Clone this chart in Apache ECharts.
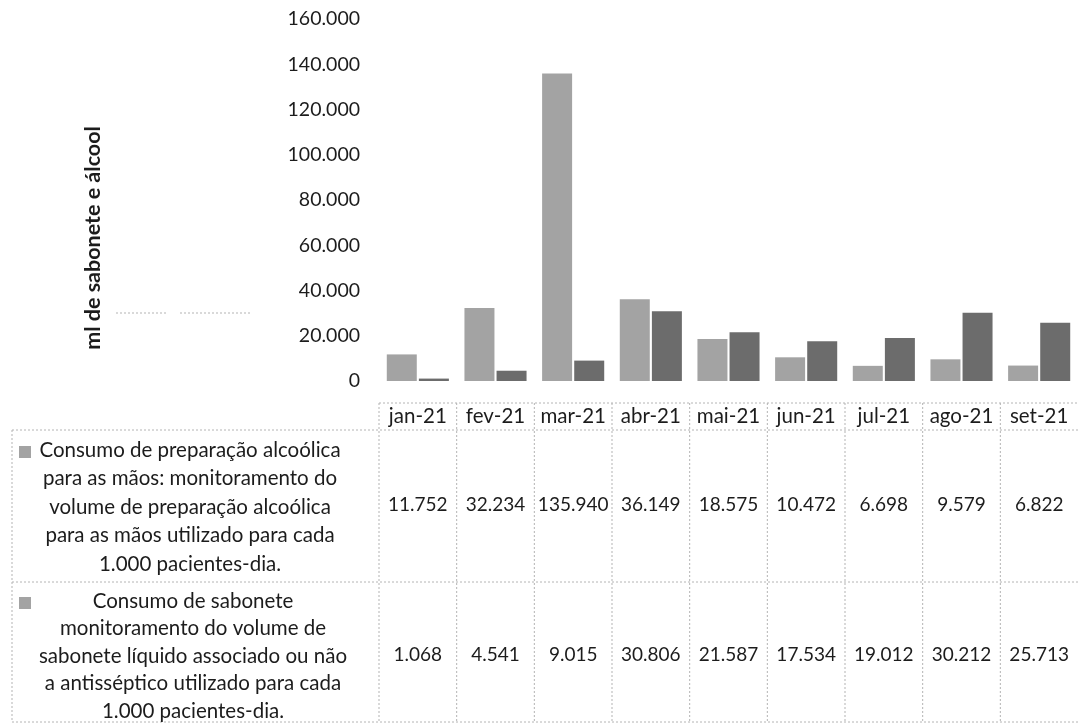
<!DOCTYPE html>
<html>
<head>
<meta charset="utf-8">
<script src="https://cdn.jsdelivr.net/npm/echarts@6/dist/echarts.min.js"></script>
<style>
  html, body { margin: 0; padding: 0; background: #fff; }
  #main { width: 1078px; height: 723px; }
</style>
</head>
<body>
<div id="main"></div>
<script>
var meses = ['jan-21', 'fev-21', 'mar-21', 'abr-21', 'mai-21', 'jun-21', 'jul-21', 'ago-21', 'set-21'];
var alcool = [11752, 32234, 135940, 36149, 18575, 10472, 6698, 9579, 6822];
var sabonete = [1068, 4541, 9015, 30806, 21587, 17534, 19012, 30212, 25713];
var rotulos = [
  'Consumo de preparação alcoólica\npara as mãos: monitoramento do\nvolume de preparação alcoólica\npara as mãos utilizado para cada\n1.000 pacientes-dia.',
  'Consumo de sabonete\nmonitoramento do volume de\nsabonete líquido associado ou não\na antisséptico utilizado para cada\n1.000 pacientes-dia.'
];
var tituloY = 'ml de sabonete e álcool';

var fonte = 'Lato, "Open Sans", sans-serif';
var corTexto = '#1c1c1c';
var cores = ['#a3a3a3', '#6c6c6c'];

// separador de milhar com ponto
function fmt(v) {
  return String(v).replace(/\B(?=(\d{3})+(?!\d))/g, '.');
}

var myChart = echarts.init(document.getElementById('main'));

var option = {
  animation: false,
  backgroundColor: '#fff',
  grid: { left: 379, right: -9, top: 19, bottom: 342 },
  xAxis: {
    type: 'category',
    data: meses,
    axisLine: { show: false },
    axisTick: { show: false },
    axisLabel: { color: corTexto, fontFamily: fonte, fontSize: 20.5, margin: 25,
                 interval: 0, hideOverlap: false }
  },
  yAxis: {
    type: 'value',
    min: 0,
    max: 160000,
    interval: 20000,
    axisLine: { show: false },
    axisTick: { show: false },
    splitLine: { show: false },
    axisLabel: {
      color: corTexto, fontFamily: fonte, fontSize: 19.5, margin: 19,
      formatter: fmt
    }
  },
  series: [
    { name: 'alcool', type: 'bar', data: alcool, barWidth: 30, barGap: '7%',
      itemStyle: { color: cores[0] } },
    { name: 'sabonete', type: 'bar', data: sabonete, barWidth: 30,
      itemStyle: { color: cores[1] } }
  ]
};
myChart.setOption(option);

// tabela de dados abaixo do gráfico
var centros = meses.map(function (m) {
  return myChart.convertToPixel({ xAxisIndex: 0 }, m);
});
var passo = centros[1] - centros[0];
var direita = 1078;
var linhas = { topo: 403, cab: 430, meio: 582, fim: 722, esq: 12 };
var tracejado = { stroke: '#b4b4b4', lineWidth: 1, lineDash: [2, 2] };

function linha(x1, y1, x2, y2) {
  return { type: 'line', shape: { x1: x1, y1: y1, x2: x2, y2: y2 }, style: tracejado, silent: true };
}
function texto(t, x, y, extra) {
  var s = { text: t, x: x, y: y, fill: corTexto, fontFamily: fonte, fontSize: 19,
            align: 'center', verticalAlign: 'middle' };
  for (var k in extra) s[k] = extra[k];
  return { type: 'text', style: s, silent: true };
}

var g = [];
var x0 = centros[0] - passo / 2;
g.push(linha(x0, linhas.topo, direita, linhas.topo));
g.push(linha(linhas.esq, linhas.cab, direita, linhas.cab));
g.push(linha(linhas.esq, linhas.meio, direita, linhas.meio));
g.push(linha(linhas.esq, linhas.fim, direita, linhas.fim));
g.push(linha(linhas.esq, linhas.cab, linhas.esq, linhas.fim));
centros.forEach(function (c) {
  g.push(linha(c - passo / 2, linhas.topo, c - passo / 2, linhas.fim));
});

var series = [alcool, sabonete];
var yLinha = [505, 655];
series.forEach(function (dados, i) {
  dados.forEach(function (v, j) {
    g.push(texto(fmt(v), centros[j], yLinha[i]));
  });
});

g.push(texto(rotulos[0], 190, 507, { lineHeight: 28.5, fontSize: 20.5 }));
g.push(texto(rotulos[1], 193, 656, { lineHeight: 27.5, fontSize: 20.5 }));
g.push({ type: 'rect', shape: { x: 19, y: 446, width: 12, height: 12 },
         style: { fill: cores[0] }, silent: true });
g.push({ type: 'rect', shape: { x: 19, y: 597, width: 12, height: 12 },
         style: { fill: cores[0] }, silent: true });

// título do eixo Y
g.push({ type: 'text', x: 93, y: 238, rotation: Math.PI / 2, silent: true,
         style: { text: tituloY, fill: corTexto, fontFamily: fonte, fontSize: 21.5,
                  fontWeight: 'bold', align: 'center', verticalAlign: 'middle' } });

// traço pontilhado à esquerda
g.push(linha(116, 313, 167, 313));
g.push(linha(180, 313, 250, 313));

myChart.setOption({ graphic: g });
</script>
</body>
</html>
